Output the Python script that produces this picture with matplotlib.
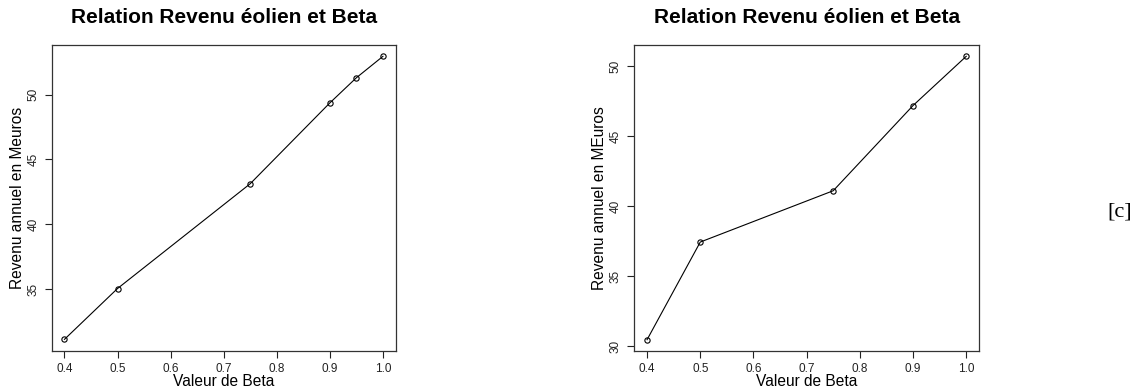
import matplotlib
matplotlib.use("Agg")
from matplotlib import pyplot as plt

plt.rcParams['font.family'] = ['Liberation Sans', 'DejaVu Sans']

# donnees
beta_a = [0.4, 0.5, 0.75, 0.9, 0.95, 1.0]
revenu_a = [31.13, 35.05, 43.13, 49.36, 51.3, 52.95]
yticks_a = [35, 40, 45, 50]

beta_b = [0.4, 0.5, 0.75, 0.9, 1.0]
revenu_b = [30.46, 37.44, 41.11, 47.2, 50.72]
yticks_b = [30, 35, 40, 45, 50]

xticks = [0.4, 0.5, 0.6, 0.7, 0.8, 0.9, 1.0]
titre = "Relation Revenu éolien et Beta"
xlab = "Valeur de Beta"
ylab_a = "Revenu annuel en Meuros"
ylab_b = "Revenu annuel en MEuros"


def panneau(fig, rect, x, y, yticks, ylab):
    """Un graphique style R base"""
    ax = fig.add_axes(rect)
    ax.plot(x, y, color='black', linewidth=0.8, marker='o', markersize=3.8,
            markerfacecolor='none', markeredgecolor='black', markeredgewidth=0.8)
    # extension de 4% comme R
    dx = (max(x) - min(x)) * 0.04
    dy = (max(y) - min(y)) * 0.04
    ax.set_xlim(min(x) - dx, max(x) + dx)
    ax.set_ylim(min(y) - dy, max(y) + dy)
    ax.set_xticks(xticks)
    ax.set_xticklabels(["%.1f" % v for v in xticks])
    ax.set_yticks(yticks)
    ax.set_yticklabels([str(v) for v in yticks], rotation=90, va='center')
    ax.tick_params(direction='out', length=5, width=0.8, labelsize=8.5,
                   colors='#222222', pad=4)
    for s in ax.spines.values():
        s.set_linewidth(0.9)
        s.set_color('#333333')
    ax.set_title(titre, fontsize=15, fontweight='bold', pad=16)
    ax.set_xlabel(xlab, fontsize=11.2)
    ax.xaxis.set_label_coords(0.5, -0.075)
    ax.set_ylabel(ylab, fontsize=11.2)
    ax.yaxis.set_label_coords(-0.078, 0.5)
    return ax


fig = plt.figure(figsize=(11.39, 3.9), dpi=100)

panneau(fig, [0.0454, 0.1008, 0.302, 0.7838], beta_a, revenu_a, yticks_a, ylab_a)
panneau(fig, [0.5569, 0.1, 0.3026, 0.7846], beta_b, revenu_b, yticks_b, ylab_b)

fig.text(0.983, 0.457, "[c]", fontsize=16, family=['Liberation Serif', 'DejaVu Serif'],
         ha='center', va='center')

fig.savefig("out.png", dpi=100)
